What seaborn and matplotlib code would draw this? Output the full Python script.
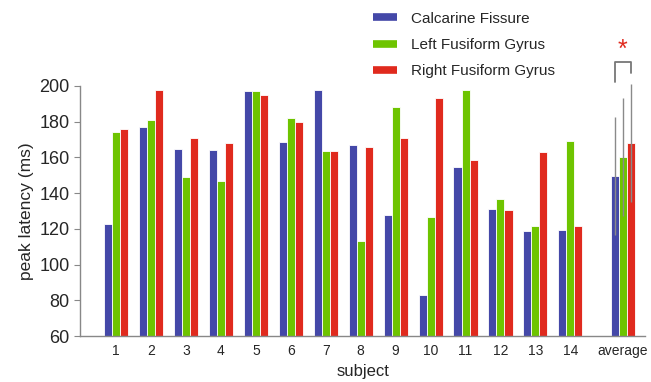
import numpy as np
import pandas as pd
import matplotlib
matplotlib.use("Agg")
import matplotlib.pyplot as plt
import seaborn as sns
from matplotlib.lines import Line2D

# Peak latencies (ms) per subject and region
subjects = ["1", "2", "3", "4", "5", "6", "7", "8", "9", "10", "11", "12", "13", "14", "average"]
calcarine = [123, 177, 165, 164, 197, 168.5, 198, 167, 128, 83, 154.5, 131, 119, 119.5, 149.5]
left_fusiform = [174, 181, 149, 147, 197, 182, 163.5, 113.5, 188, 126.5, 198, 136.5, 121.5, 169, 160]
right_fusiform = [176, 198, 171, 168, 195, 180, 163.5, 166, 171, 193, 158.5, 130.5, 163, 121.5, 168]
# spread shown on the group averages
average_err = [33, 33, 33]

regions = ["Calcarine Fissure", "Left Fusiform Gyrus", "Right Fusiform Gyrus"]
colors = ["#4448A8", "#6EC400", "#E02A1E"]
positions = [1, 2, 3, 4, 5, 6, 7, 8, 9, 10, 11, 12, 13, 14, 15.5]

rows = []
for region, vals in zip(regions, [calcarine, left_fusiform, right_fusiform]):
    for pos, v in zip(positions, vals):
        rows.append({"pos": pos, "latency": v, "region": region})
df = pd.DataFrame(rows)

sns.set_style("white")
plt.rcParams["font.family"] = ["Liberation Sans", "DejaVu Sans"]

fig = plt.figure(figsize=(6.51, 3.82), dpi=100)
ax = fig.add_axes([0.123, 0.120, 0.868, 0.655])

sns.barplot(data=df, x="pos", y="latency", hue="region", palette=colors,
            native_scale=True, width=0.69, errorbar=None, legend=False,
            saturation=1, edgecolor="white", linewidth=0.6, ax=ax)

# error bars on the average group, centred on each region's bar
centers = []
for cont, err in zip(ax.containers, average_err):
    patch = cont.patches[-1]
    cx = patch.get_x() + patch.get_width() / 2
    centers.append(cx)
    ax.errorbar(cx, patch.get_height(), yerr=err, fmt="none", ecolor="#8a8a8a",
                elinewidth=1.0, capsize=0, clip_on=False, zorder=3)

# significance bracket between calcarine and right fusiform averages
bx0, bx1 = centers[0], centers[2]
ax.plot([bx0, bx0, bx1, bx1], [202, 213.5, 213.5, 207.5], color="#777777",
        lw=1.3, clip_on=False)
ax.text((bx0 + bx1) / 2, 213.2, "*", color="#E02A1E", fontsize=18,
        ha="center", va="bottom", clip_on=False)

ax.set_ylim(60, 200)
ax.set_xlim(-0.03, 16.14)
ax.set_yticks([60, 80, 100, 120, 140, 160, 180, 200])
ax.set_xticks(positions)
ax.set_xticklabels(subjects, fontsize=10)
ax.tick_params(axis="y", labelsize=13, length=4, color="#888888", direction="out", left=True)
ax.tick_params(axis="x", length=0, pad=6)
for s in ["top", "right"]:
    ax.spines[s].set_visible(False)
for s in ["left", "bottom"]:
    ax.spines[s].set_color("#888888")
    ax.spines[s].set_linewidth(1.0)

ax.set_ylabel("peak latency (ms)", fontsize=12.5)
ax.set_xlabel("subject", fontsize=12, labelpad=4)

handles = [Line2D([0], [0], color=c, lw=5.5, solid_capstyle="butt") for c in colors]
fig.legend(handles, regions, loc="upper left", bbox_to_anchor=(0.552, 1.005),
           frameon=False, fontsize=11, handlelength=1.55, labelspacing=0.8,
           handletextpad=0.9)

fig.savefig("out.png", dpi=100)
